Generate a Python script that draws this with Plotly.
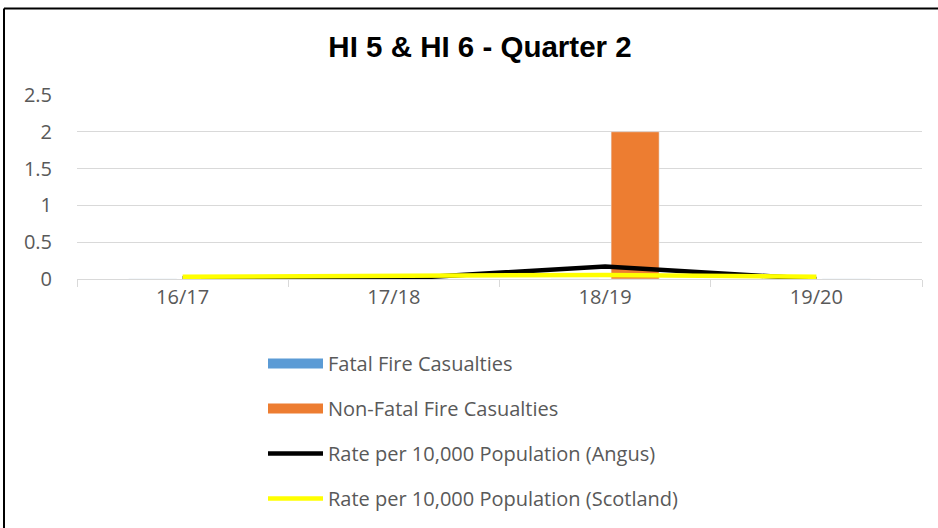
import plotly.graph_objects as go

categories = ["16/17", "17/18", "18/19", "19/20"]
fatal = [0, 0, 0, 0]
non_fatal = [0, 0, 2, 0]
rate_angus = [0.01, 0.0, 0.17, 0.0]
rate_scotland = [0.03, 0.05, 0.055, 0.03]
y_ticks = [0, 0.5, 1, 1.5, 2, 2.5]
y_tick_labels = ["0", "0.5", "1", "1.5", "2", "2.5"]

FONT = "Open Sans"
GREY = "#595959"
C_FATAL = "#5B9BD5"
C_NONFATAL = "#ED7D31"

fig = go.Figure()
# legend keys drawn as wide rectangles (as in the reference)
fig.add_trace(go.Scatter(x=[None], y=[None], mode="lines", name="Fatal Fire Casualties",
                         line=dict(color=C_FATAL, width=13), legendgroup="a",
                         hoverinfo="skip"))
fig.add_trace(go.Scatter(x=[None], y=[None], mode="lines", name="Non-Fatal Fire Casualties",
                         line=dict(color=C_NONFATAL, width=13), legendgroup="b",
                         hoverinfo="skip"))
fig.add_trace(go.Bar(x=categories, y=fatal, name="Fatal Fire Casualties",
                     marker_color=C_FATAL, legendgroup="a", showlegend=False))
fig.add_trace(go.Bar(x=categories, y=non_fatal, name="Non-Fatal Fire Casualties",
                     marker_color=C_NONFATAL, legendgroup="b", showlegend=False))
fig.add_trace(go.Scatter(x=categories, y=rate_angus, mode="lines",
                         name="Rate per 10,000 Population (Angus)",
                         line=dict(color="#000000", width=4.5), legendgroup="c"))
fig.add_trace(go.Scatter(x=categories, y=rate_scotland, mode="lines",
                         name="Rate per 10,000 Population (Scotland)",
                         line=dict(color="#FFFF00", width=4.5), legendgroup="d"))

fig.update_layout(
    width=938, height=528,
    margin=dict(l=77, r=16, t=95, b=248),
    paper_bgcolor="white", plot_bgcolor="white",
    barmode="group", bargap=0.432, bargroupgap=0.2,
    title=dict(text="<b>HI 5 & HI 6 - Quarter 2</b>", x=480 / 938, xanchor="center",
               y=1 - 47 / 528, yanchor="middle", yref="container",
               font=dict(family="Liberation Sans", size=29.5, color="#000000")),
    font=dict(family=FONT, color=GREY, size=20),
    showlegend=True,
    legend=dict(orientation="v",
                x=(263 - 77) / 845, xanchor="left", y=-(344 - 280) / 185, yanchor="top",
                traceorder="grouped", tracegroupgap=16, itemwidth=55,
                font=dict(family=FONT, size=20, color=GREY),
                bgcolor="rgba(0,0,0,0)"),
    xaxis=dict(type="category", range=[-0.5, 3.5], showgrid=False,
               showline=True, linecolor="#D9D9D9", linewidth=1,
               ticks="outside", tickson="boundaries", ticklen=7, tickcolor="#D9D9D9",
               tickangle=0,
               tickfont=dict(family=FONT, size=20, color=GREY), fixedrange=True),
    yaxis=dict(range=[0, 2.5], tickvals=y_ticks, ticktext=y_tick_labels,
               showgrid=True, gridcolor="#D9D9D9", gridwidth=1,
               zeroline=False, showline=False, ticks="", ticklabelstandoff=24,
               tickfont=dict(family=FONT, size=20, color=GREY)),
    shapes=[
        dict(type="line", xref="paper", yref="paper", x0=(4 - 77) / 845, x1=(4 - 77) / 845,
             y0=(280 - 540) / 185, y1=(280 - 8) / 185, line=dict(color="black", width=2)),
        dict(type="line", xref="paper", yref="paper", x0=(4 - 77) / 845, x1=(950 - 77) / 845,
             y0=(280 - 8) / 185, y1=(280 - 8) / 185, line=dict(color="black", width=2)),
    ],
)

fig.write_html("out.html", config={"displayModeBar": False},
               post_script="document.body.style.margin='0';")
